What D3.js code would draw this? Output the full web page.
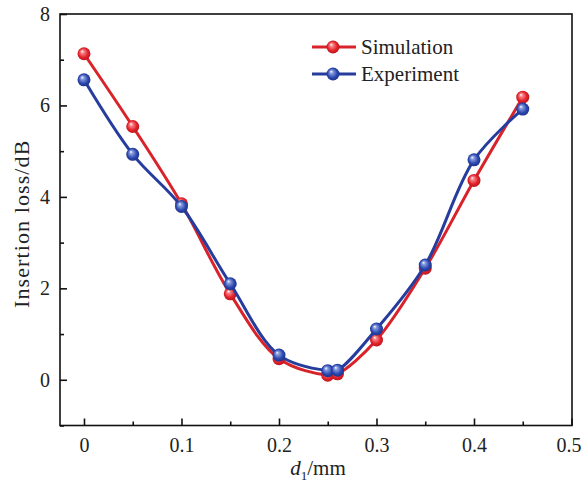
<!DOCTYPE html>
<html>
<head>
<meta charset="utf-8">
<script src="https://cdn.jsdelivr.net/npm/d3@7"></script>
<style>
  html, body { margin: 0; padding: 0; background: #fff; }
  svg { display: block; }
  text { font-family: "Liberation Serif", "Times New Roman", serif; fill: #222; }
</style>
</head>
<body>
<script>
// ---- data ----
const xValues = [0, 0.05, 0.1, 0.15, 0.2, 0.25, 0.26, 0.3, 0.35, 0.4, 0.45];
const simulation = [7.13, 5.54, 3.85, 1.88, 0.46, 0.10, 0.13, 0.87, 2.44, 4.36, 6.18];
const experiment = [6.56, 4.93, 3.79, 2.10, 0.54, 0.20, 0.21, 1.11, 2.51, 4.81, 5.92];
const seriesNames = ["Simulation", "Experiment"];
const xTicks = [0, 0.1, 0.2, 0.3, 0.4, 0.5];
const xMinorTicks = [0.05, 0.15, 0.25, 0.35, 0.45];
const yTicks = [0, 2, 4, 6, 8];
const yMinorTicks = [-1, 1, 3, 5, 7];
const yLabel = "Insertion loss/dB";

// ---- layout ----
const W = 582, H = 484;
const L = 60, R = 572, T = 14, B = 425.5;
const colors = { Simulation: "#d8232b", Experiment: "#263d9d" };

const svg = d3.select("body").append("svg").attr("width", W).attr("height", H);
const defs = svg.append("defs");

function ball(id, light, mid, dark) {
  const g = defs.append("radialGradient").attr("id", id)
    .attr("cx", "50%").attr("cy", "50%").attr("r", "55%")
    .attr("fx", "35%").attr("fy", "30%");
  g.append("stop").attr("offset", "0%").attr("stop-color", "#ffffff");
  g.append("stop").attr("offset", "22%").attr("stop-color", light);
  g.append("stop").attr("offset", "65%").attr("stop-color", mid);
  g.append("stop").attr("offset", "100%").attr("stop-color", dark);
}
ball("gSim", "#f6888c", "#e5222b", "#b0141b");
ball("gExp", "#8a9ee0", "#2c49b0", "#1a2d80");

const x = d3.scaleLinear().domain([-0.0246, 0.5]).range([L, R - 0.5]);
const y = d3.scaleLinear().domain([-1, 8]).range([B, T]);

// ---- axes (ticks inside) ----
const axisG = svg.append("g");
axisG.append("rect").attr("x", L).attr("y", T).attr("width", R - L).attr("height", B - T)
  .attr("fill", "none").attr("stroke", "#111").attr("stroke-width", 1.6);

const xAxis = d3.axisBottom(x).tickValues(xTicks).tickSize(-7).tickPadding(12)
  .tickFormat(d => d === 0 ? "0" : d3.format(".1f")(d));
const gx = svg.append("g").attr("transform", `translate(0,${B})`).call(xAxis);
gx.select(".domain").remove();
gx.selectAll(".tick line").attr("stroke", "#111").attr("stroke-width", 1.6);
gx.selectAll(".tick text").attr("font-size", 20).attr("fill", "#222")
  .style("font-family", '"Liberation Serif", serif')
  .attr("dx", d => d === 0.5 ? -3 : 0);
const gxm = svg.append("g").attr("transform", `translate(0,${B})`)
  .call(d3.axisBottom(x).tickValues(xMinorTicks).tickSize(-4).tickFormat(""));
gxm.select(".domain").remove();
gxm.selectAll(".tick line").attr("stroke", "#111").attr("stroke-width", 1.6);

const yAxis = d3.axisLeft(y).tickValues(yTicks).tickSize(-7).tickPadding(10).tickFormat(d3.format("d"));
const gy = svg.append("g").attr("transform", `translate(${L},0)`).call(yAxis);
gy.select(".domain").remove();
gy.selectAll(".tick line").attr("stroke", "#111").attr("stroke-width", 1.6);
gy.selectAll(".tick text").attr("font-size", 20).attr("fill", "#222")
  .style("font-family", '"Liberation Serif", serif');
const gym = svg.append("g").attr("transform", `translate(${L},0)`)
  .call(d3.axisLeft(y).tickValues(yMinorTicks).tickSize(-4).tickFormat(""));
gym.select(".domain").remove();
gym.selectAll(".tick line").attr("stroke", "#111").attr("stroke-width", 1.6);

// axis titles
svg.append("text").attr("transform", `translate(29,${(T + B) / 2 + 4}) rotate(-90)`)
  .attr("text-anchor", "middle").attr("font-size", 22).attr("letter-spacing", 1.1).text(yLabel);
const xl = svg.append("text").attr("x", (L + R) / 2 + 2).attr("y", 475)
  .attr("text-anchor", "middle").attr("font-size", 21);
xl.append("tspan").attr("font-style", "italic").text("d");
xl.append("tspan").attr("font-size", 13).attr("dy", 5).text("1");
xl.append("tspan").attr("dy", -5).text("/mm");

// ---- series ----
const line = d3.line().x(d => x(d[0])).y(d => y(d[1])).curve(d3.curveCatmullRom.alpha(0.5));
const series = [
  { name: "Simulation", vals: simulation, grad: "url(#gSim)" },
  { name: "Experiment", vals: experiment, grad: "url(#gExp)" }
];
series.forEach(s => {
  const pts = xValues.map((xv, i) => [xv, s.vals[i]]);
  const g = svg.append("g");
  g.append("path").attr("d", line(pts)).attr("fill", "none")
    .attr("stroke", colors[s.name]).attr("stroke-width", 3);
  g.selectAll("circle").data(pts).join("circle")
    .attr("cx", d => x(d[0])).attr("cy", d => y(d[1])).attr("r", 6.5)
    .attr("fill", s.grad);
});

// ---- legend ----
const leg = svg.append("g");
series.forEach((s, i) => {
  const ly = 47 + i * 27;
  leg.append("line").attr("x1", 312).attr("x2", 356).attr("y1", ly).attr("y2", ly)
    .attr("stroke", colors[s.name]).attr("stroke-width", 3);
  leg.append("circle").attr("cx", 333).attr("cy", ly).attr("r", 6.5).attr("fill", s.grad);
  leg.append("text").attr("x", 361).attr("y", ly + 7).attr("font-size", 21).text(s.name);
});
</script>
</body>
</html>
